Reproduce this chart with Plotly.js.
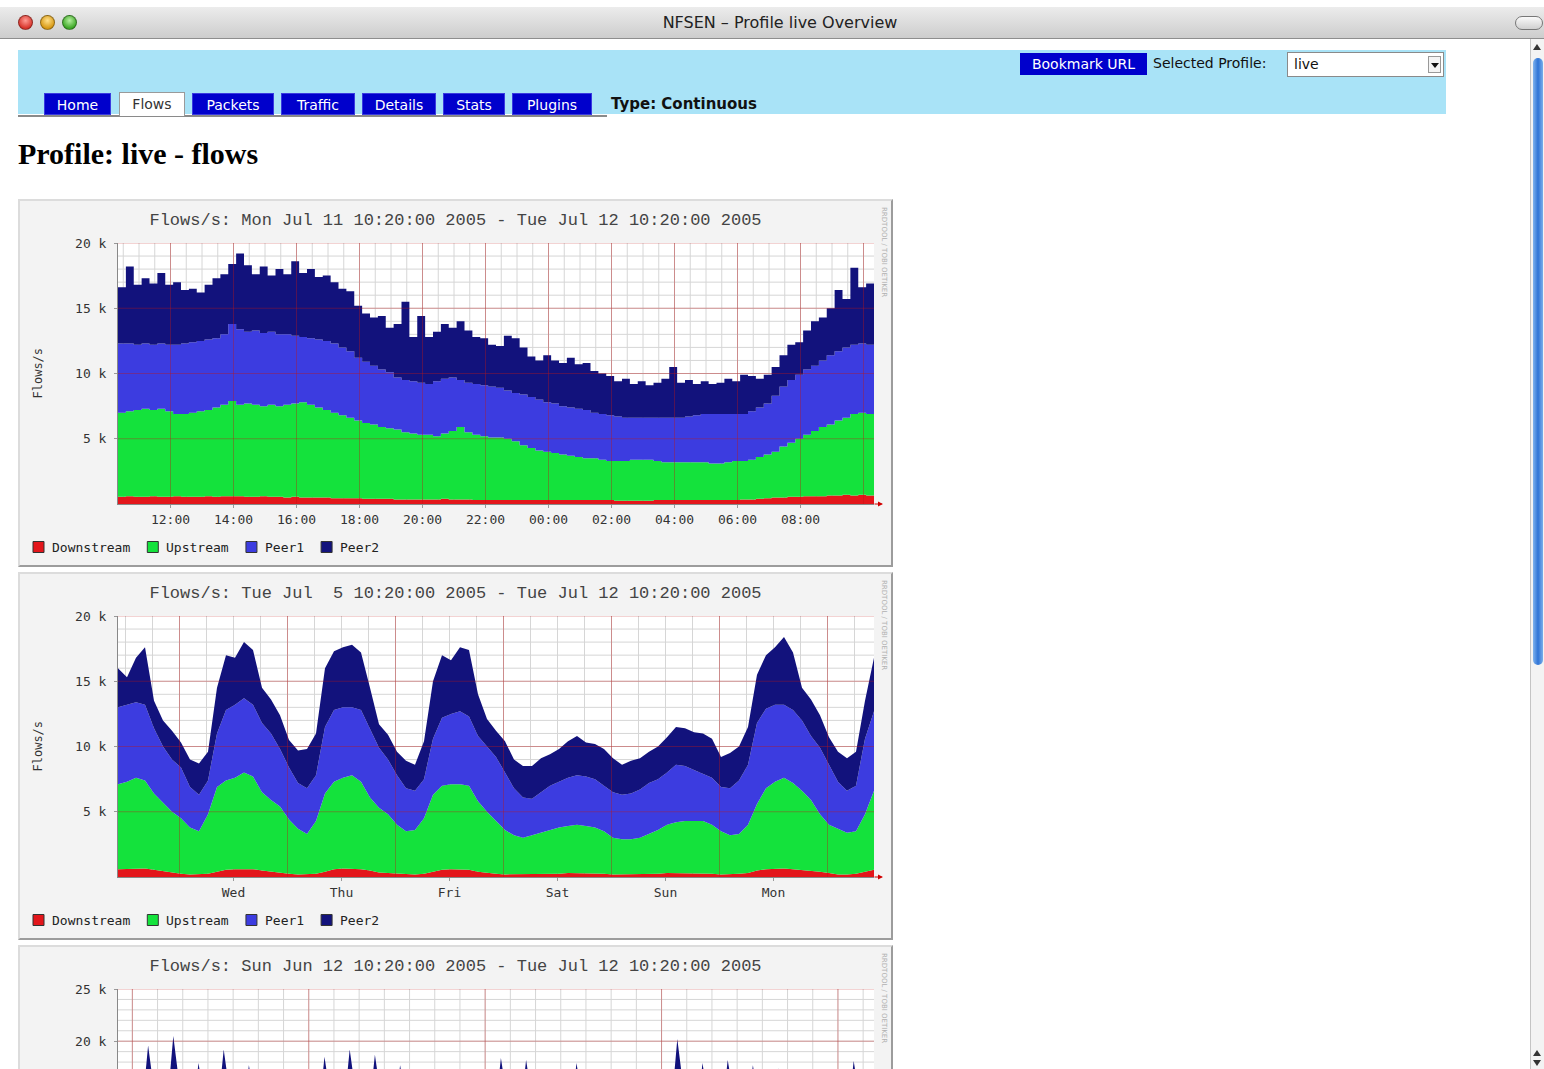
<!DOCTYPE html>
<html>
<head>
<meta charset="utf-8">
<script src="https://cdn.plot.ly/plotly-3.0.1.min.js"></script>
<style>
html,body{margin:0;padding:0;background:#fff;}
body{width:1544px;height:1069px;overflow:hidden;position:relative;font-family:"DejaVu Sans",sans-serif;}
.abs{position:absolute;}
#titlebar{left:0;top:7px;width:1544px;height:31px;background:linear-gradient(#ececec,#cdcdcd);border-bottom:1px solid #8e8e8e;}
.light{position:absolute;top:8px;width:15px;height:15px;border-radius:50%;box-sizing:border-box;border:1px solid rgba(0,0,0,0.35);}
#wtitle{left:620px;top:13px;width:320px;text-align:center;font-size:16px;color:#222;}
#pill{left:1515px;top:16px;width:26px;height:12px;border:1px solid #777;border-radius:7px;background:linear-gradient(#fafafa,#d0d0d0);}
#nav{left:18px;top:50px;width:1428px;height:64px;background:#a9e3f7;}
.btn{position:absolute;background:#0000cc;color:#fff;font-size:14px;text-align:center;line-height:22px;}
.lbl{position:absolute;font-size:14px;color:#111;}
#sel{left:1287px;top:52px;width:157px;height:25px;box-sizing:border-box;background:#fff;border:1px solid #8a8a8a;font-size:14px;line-height:23px;padding-left:6px;color:#111;}
#selarrow{position:absolute;right:2px;top:3px;width:13px;height:17px;border:1px solid #999;box-sizing:border-box;background:#f4f4f4;}
#selarrow:after{content:"";position:absolute;left:2px;top:6px;border-left:4px solid transparent;border-right:4px solid transparent;border-top:5px solid #111;}
.tab{position:absolute;top:93px;height:22px;line-height:22px;background:#0000cc;color:#fff;font-size:14px;text-align:center;box-sizing:border-box;border:1px solid #3a3ae0;}
.tab.on{background:#fff;color:#333;border:1px solid #9a9a9a;border-bottom:none;height:24px;top:92px;}
#tabline{left:18px;top:115px;width:589px;height:2px;background:#8a8a8a;}
#ctype{left:611px;top:95px;font-size:15px;font-weight:bold;color:#111;}
#heading{left:18px;top:139px;font-family:"Liberation Serif","Times New Roman",serif;font-weight:bold;font-size:30px;line-height:30px;color:#000;}
.chart{position:absolute;left:18px;width:875px;height:368px;}
.frame{position:absolute;left:18px;width:875px;height:368px;box-sizing:border-box;border:2px solid;border-color:#dcdcdc #9c9c9c #9c9c9c #dcdcdc;pointer-events:none;}
#scroll{left:1530px;top:39px;width:14px;height:1030px;background:#f3f3f3;border-left:1px solid #c4c4c4;}
#thumb{left:1533px;top:58px;width:10px;height:607px;border-radius:6px;background:linear-gradient(to right,#7fb3ee,#2f74d6,#79aeea);}
.arr{position:absolute;width:0;height:0;border-left:4px solid transparent;border-right:4px solid transparent;}
</style>
</head>
<body>
<div id="titlebar" class="abs">
  <div class="light" style="left:18px;background:radial-gradient(circle at 50% 35%,#ff9b93,#d8352c 70%);"></div>
  <div class="light" style="left:40px;background:radial-gradient(circle at 50% 35%,#ffe08a,#d89a16 70%);"></div>
  <div class="light" style="left:62px;background:radial-gradient(circle at 50% 35%,#b6f0a0,#3fa928 70%);"></div>
</div>
<div id="wtitle" class="abs">NFSEN – Profile live Overview</div>
<div id="pill" class="abs"></div>
<div id="scroll" class="abs"></div>
<div id="thumb" class="abs"></div>
<div class="arr" style="left:1533px;top:44px;border-bottom:6px solid #333;"></div>
<div class="arr" style="left:1533px;top:1050px;border-bottom:6px solid #333;"></div>
<div class="arr" style="left:1533px;top:1060px;border-top:6px solid #333;"></div>

<div id="nav" class="abs"></div>
<div class="btn" style="left:1020px;top:53px;width:127px;height:22px;">Bookmark URL</div>
<div class="lbl" style="left:1153px;top:55px;">Selected Profile:</div>
<div id="sel" class="abs">live<div id="selarrow"></div></div>
<div id="tabline" class="abs"></div>
<div class="tab" style="left:44px;width:67px;">Home</div>
<div class="tab on" style="left:119px;width:66px;">Flows</div>
<div class="tab" style="left:192px;width:82px;">Packets</div>
<div class="tab" style="left:281px;width:74px;">Traffic</div>
<div class="tab" style="left:362px;width:74px;">Details</div>
<div class="tab" style="left:443px;width:62px;">Stats</div>
<div class="tab" style="left:512px;width:80px;">Plugins</div>
<div id="ctype" class="abs">Type: Continuous</div>
<div id="heading" class="abs">Profile: live - flows</div>

<div id="c1" class="chart" style="top:199px;"></div>
<div class="frame" style="top:199px;"></div>
<div id="c2" class="chart" style="top:572px;"></div>
<div class="frame" style="top:572px;"></div>
<div id="c3" class="chart" style="top:945px;"></div>
<div class="frame" style="top:945px;"></div>

<script>
// ---------------- data ----------------
const seriesNames = ['Downstream', 'Upstream', 'Peer1', 'Peer2'];
const seriesColors = ['#e3161b', '#14e23c', '#3c3ce0', '#12127c'];

// Chart 1: one day, 15-minute samples starting Mon Jul 11 10:20 2005
const dayTitle = 'Flows/s: Mon Jul 11 10:20:00 2005 - Tue Jul 12 10:20:00 2005';
const dayStart = '2005-07-11 10:20';
const dayEnd = '2005-07-12 10:20';
const dayStepMinutes = 15;
const dayDownstream = [550,600,550,550,600,550,550,600,550,550,550,600,550,600,600,600,550,550,600,550,550,500,550,500,500,500,500,450,450,450,
450,400,400,400,400,350,350,350,350,350,350,400,350,350,350,300,300,300,300,300,300,300,300,300,300,300,300,300,300,300,
300,300,300,250,250,250,250,250,300,300,300,300,300,300,300,300,300,300,300,350,350,400,450,500,500,550,550,600,600,600,650,650,700,650,700,650,700];
const dayUpstream = [6450,6500,6650,6750,6600,6750,6550,6300,6350,6450,6550,6600,6850,7000,7300,7000,7150,7050,6900,7050,6950,7100,7150,7300,7100,6900,6700,6550,6350,6150,
5950,5800,5700,5500,5400,5350,5150,5050,4950,4950,4850,5000,5250,5550,5150,5000,4900,4800,4800,4700,4500,4200,4000,3800,3700,3600,3500,3400,3300,3200,
3200,3100,3000,3050,3050,3150,3150,3150,3000,2900,2900,2900,2900,2900,2900,2800,2800,2900,3000,2950,3050,3200,3350,3500,3900,4150,4450,4700,5000,5300,5450,5750,5900,6250,6300,6250,6100];
const dayPeer1 = [5300,5200,5000,5000,5000,5000,5100,5300,5400,5400,5400,5400,5300,5400,5900,5800,5500,5700,5600,5600,5500,5400,5200,5000,5100,5200,5300,5300,5200,5100,
4800,4700,4500,4400,4300,4000,4000,4000,4000,3900,4200,4200,4100,3600,3800,3900,3900,3900,3800,3700,3700,3900,3900,3900,3800,3800,3700,3700,3700,3700,
3500,3500,3500,3400,3300,3200,3200,3200,3300,3400,3400,3400,3500,3600,3700,3800,3800,3700,3600,3600,3700,3800,3900,4300,4600,4800,4900,5000,5000,5100,5300,5300,5400,5300,5300,5300,5400];
const dayPeer2 = [4300,5900,4600,5000,4700,5400,4600,4800,4100,4100,3700,4200,4600,4600,4600,5800,5100,4300,5100,4300,5000,4600,5700,4900,5300,4800,5000,4700,4500,4600,
4000,3700,3700,4100,3400,4100,6000,3400,5100,3600,3800,4200,3800,4500,4000,3600,3600,3200,3200,4200,4200,3600,3100,3000,3600,3300,3300,3800,3400,3600,
3200,3100,3000,2700,3000,2600,2800,2500,2700,3000,3900,2700,2800,2400,2500,2300,2400,2700,2500,3000,2700,2200,2200,2200,2400,2700,2500,3000,3400,3300,3600,4700,3700,5900,4300,4700,4800];
const dayTickVals = ['2005-07-11 12:00','2005-07-11 14:00','2005-07-11 16:00','2005-07-11 18:00','2005-07-11 20:00','2005-07-11 22:00','2005-07-12 00:00','2005-07-12 02:00','2005-07-12 04:00','2005-07-12 06:00','2005-07-12 08:00'];
const dayTickText = ['12:00','14:00','16:00','18:00','20:00','22:00','00:00','02:00','04:00','06:00','08:00'];

// Chart 2: one week, 2-hour samples starting Tue Jul 5 10:20 2005
const weekTitle = 'Flows/s: Tue Jul \u00a05 10:20:00 2005 - Tue Jul 12 10:20:00 2005';
const weekStart = '2005-07-05 10:20';
const weekEnd = '2005-07-12 10:20';
const weekStepMinutes = 120;
const weekDownstream = [600,600,650,650,550,450,300,250,200,200, 250,400,550,600,600,600,500,400,300,250, 200,200,250,400,600,650,650,600,500,350,
300,250,200,200,250,400,550,600,600,550, 400,300,250,200,200,200,200,200,250,250, 300,300,300,300,250,200,200,200,200,200,
250,300,300,300,300,300,250,200,200,250, 300,500,600,650,650,600,550,500,400,300, 200,200,250,400,550];
const weekUpstream = [6500,6700,6950,6750,5850,5250,4700,4250,3600,3300, 4550,6500,6850,7000,7400,7100,6000,5500,5100,4150, 3500,3100,4050,6000,6700,6950,7150,6700,5600,4950,
4500,3750,3300,3400,4250,5900,6450,6500,6500,6450, 5400,4700,4050,3400,3000,2800,3000,3200,3350,3550, 3600,3700,3600,3500,3250,2800,2700,2700,2800,3100,
3350,3700,3900,4000,4000,4000,3750,3300,3000,3050, 3700,5100,6200,6650,6950,6600,6050,5400,4400,3700, 3500,3200,3250,4400,6050];
const weekPeer1 = [5900,5900,5800,5800,5000,4300,4000,3900,3100,2800, 2600,4100,5400,5600,5700,5500,5300,5100,4400,4000, 3500,3500,3500,5100,5500,5400,5200,5500,5300,4600,
4200,3800,3300,3000,3000,4300,5200,5400,5600,5300, 5000,5000,4900,4400,3600,3100,2800,3100,3400,3500, 3700,3800,3800,3700,3500,3500,3400,3500,3700,3900,
3900,4000,4400,4200,3900,3600,3600,3400,3600,4100, 4600,6200,6100,5900,5600,5600,5400,4900,5100,4600, 3600,3200,3500,5800,6100];
const weekPeer2 = [3000,2100,3400,4400,2100,2000,2200,1900,2100,2400, 2200,3500,4200,3600,4300,4200,2700,2600,2600,2100, 2500,3000,3200,4500,4500,4600,4800,4400,3100,1800,
1900,1800,2100,2000,2900,4400,4800,4100,4900,5100, 3200,2100,2000,2400,2200,2400,2500,2600,2400,2500, 2800,3000,2600,2700,2800,2600,2300,2500,2400,2400,
2500,2700,2900,2900,2900,3100,3000,2300,2700,2600, 2900,3700,4100,4400,5200,4400,2500,2800,2500,2100, 2300,2500,2600,2900,4100];
const weekTickVals = ['2005-07-06 12:00','2005-07-07 12:00','2005-07-08 12:00','2005-07-09 12:00','2005-07-10 12:00','2005-07-11 12:00'];
const weekTickText = ['Wed','Thu','Fri','Sat','Sun','Mon'];

// Chart 3: one month, start, then daily peak (15:00) and night trough (05:00 next day), then end
// (only its top part is visible in the window)
const monthTitle = 'Flows/s: Sun Jun 12 10:20:00 2005 - Tue Jul 12 10:20:00 2005';
const monthStart = '2005-06-12 10:20';
const monthEnd = '2005-07-12 10:20';
const monthDownstream = [300, 300,200, 600,200, 600,200, 600,200, 600,200, 600,200, 300,200, 300,200, 600,200, 600,200, 600,200, 600,200, 600,200, 300,200, 300,200,
600,200, 600,200, 600,200, 600,200, 600,200, 300,200, 300,200, 600,200, 600,200, 600,200, 600,200, 600,200, 300,200, 300,200, 600,200, 500];
const monthUpstream = [3800, 4000,3200, 7000,3200, 7000,3200, 7000,3200, 7000,3200, 7000,3200, 4000,3200, 4000,3200, 7000,3200, 7000,3200, 7000,3200, 7000,3200, 7000,3200, 4000,3200, 4000,3200,
7000,3200, 7000,3200, 7000,3200, 7000,3200, 7000,3200, 4000,3200, 4000,3200, 7000,3200, 7000,3200, 7000,3200, 7000,3200, 7000,3200, 4000,3200, 4000,3200, 7000,3200, 5000];
const monthPeer1 = [3500, 4000,3200, 5500,3200, 5500,3200, 5500,3200, 5500,3200, 5500,3200, 4000,3200, 4000,3200, 5500,3200, 5500,3200, 5500,3200, 5500,3200, 5500,3200, 4000,3200, 4000,3200,
5500,3200, 5500,3200, 5500,3200, 5500,3200, 5500,3200, 4000,3200, 4000,3200, 5500,3200, 5500,3200, 5500,3200, 5500,3200, 5500,3200, 4000,3200, 4000,3200, 5500,3200, 5000];
const monthPeer2 = [1900, 2700,2200, 6500,2400, 7400,2600, 4800,2400, 6100,2500, 4600,2200, 2700,1900, 3200,2100, 5400,2400, 6100,2500, 5600,2400, 4600,2400, 3400,2200, 2700,2000, 3500,2200,
5300,2500, 5100,2400, 3900,2400, 4800,2500, 3700,2200, 2900,2000, 3200,2100, 7100,2400, 4800,2100, 5100,3200, 4600,1900, 4300,2400, 2700,1900, 3200,2400, 5000,2500, 2500];

const yGridVals20 = [5000, 10000, 15000, 20000];
const yTickText20 = ['5 k', '10 k', '15 k', '20 k'];
const yGridVals25 = [5000, 10000, 15000, 20000, 25000];
const yVisibleTickVals25 = [20000, 25000];
const yVisibleTickText25 = ['20 k', '25 k'];

// ---------------- helpers ----------------
const MIN = 60000, HOUR = 3600000, DAY = 86400000;
function ms(s) { const p = s.split(/[- :]/).map(Number); return Date.UTC(p[0], p[1]-1, p[2], p[3]||0, p[4]||0); }
function regularTimes(start, stepMin, n) { const t0 = ms(start); const out = []; for (let i = 0; i < n; i++) out.push(t0 + i*stepMin*MIN); return out; }
function monthTimes() {
  const out = [ms(monthStart)];
  for (let d = 0; d < 30; d++) { out.push(Date.UTC(2005, 5, 12+d, 15, 0)); out.push(Date.UTC(2005, 5, 13+d, 5, 0)); }
  out.push(ms(monthEnd));
  return out;
}
function gridTimes(start, end, stepMs, offsetMs) {
  const a = ms(start), b = ms(end), out = [];
  let t = Math.ceil((a - offsetMs) / stepMs) * stepMs + offsetMs;
  for (; t <= b; t += stepMs) if (t > a) out.push(t);
  return out;
}

const MONO = '"DejaVu Sans Mono", monospace';
const TITLEMONO = '"Liberation Mono", "DejaVu Sans Mono", monospace';
const PW = 756, PH = 261, CH = 368;

function makeChart(id, o) {
  const vals = [o.down, o.up, o.peer1, o.peer2];
  const traces = vals.map((v, k) => ({
    type: 'scatter', mode: 'lines', x: o.x, y: v, name: seriesNames[k], stackgroup: 'flows',
    line: {width: 0, color: seriesColors[k], shape: o.shape}, fillcolor: seriesColors[k],
    hoverinfo: 'skip', showlegend: false
  }));
  const shapes = [];
  const minorC = '#d6d6d6', majorC = 'rgba(190,20,20,0.38)';
  o.minorX.forEach(t => shapes.push({type:'line', xref:'x', yref:'paper', x0:t, x1:t, y0:0, y1:1, layer:'below', line:{color:minorC, width:1}}));
  for (let v = 1000; v < o.ymax; v += 1000) shapes.push({type:'line', xref:'paper', yref:'y', x0:0, x1:1, y0:v, y1:v, layer:'below', line:{color:minorC, width:1}});
  o.majorX.forEach(t => shapes.push({type:'line', xref:'x', yref:'paper', x0:t, x1:t, y0:0, y1:1, layer:'above', line:{color:majorC, width:1}}));
  o.yGrid.forEach(v => shapes.push({type:'line', xref:'paper', yref:'y', x0:0, x1:1, y0:v, y1:v, layer:'above', line:{color:majorC, width:1}}));

  const annotations = [];
  if (o.showLegend) {
    let lx = 33 - 118;
    seriesNames.forEach((n, k) => {
      shapes.push({type:'rect', xref:'paper', yref:'paper', x0:lx/PW, x1:(lx+11)/PW, y0:-(43+5.5)/PH, y1:-(43-5.5)/PH,
        fillcolor: seriesColors[k], line:{color:'#333', width:1}, layer:'above'});
      annotations.push({xref:'paper', yref:'paper', x:(lx+17)/PW, y:-43/PH, xanchor:'left', yanchor:'middle', text:n,
        showarrow:false, font:{family:MONO, size:13, color:'#222'}});
      lx += 17 + n.length*7.83 + 19;
    });
  }
  if (o.showYTitle) {
    annotations.push({xref:'paper', yref:'paper', x:(37-118)/PW, y:0.5, text:'Flows/s', textangle:-90, showarrow:false,
      xanchor:'center', yanchor:'middle', font:{family:MONO, size:12, color:'#333'}});
  }
  annotations.push({xref:'paper', yref:'paper', x:(884-118)/PW, y:(261+38)/PH, text:'RRDTOOL / TOBI OETIKER', textangle:90, showarrow:false,
    xanchor:'center', yanchor:'top', font:{family:'DejaVu Sans', size:7, color:'#b0b0b0'}});
  annotations.push({xref:'paper', yref:'paper', x:(883-118)/PW, y:0, text:'', showarrow:true, ax:-10, ay:0,
    arrowhead:2, arrowsize:1, arrowwidth:1, arrowcolor:'#d00000'});

  const layout = {
    width: 875, height: CH,
    margin: {l:100, r:19, t:44, b:63, pad:0},
    paper_bgcolor: '#f3f3f3', plot_bgcolor: '#ffffff',
    title: {text: o.title, x:0.5, xref:'container', xanchor:'center', y:1-20/CH, yref:'container', yanchor:'middle',
      font:{family:TITLEMONO, size:17, color:'#444'}},
    xaxis: {type:'date', range:[o.start, o.end], tickmode:'array', tickvals:o.tickVals, ticktext:o.tickText,
      showticklabels: o.tickVals.length > 0,
      showgrid:false, zeroline:false, showline:true, linecolor:'#888', linewidth:1,
      ticks:'outside', ticklen:3, tickcolor:'#999', tickfont:{family:MONO, size:13, color:'#333'}, fixedrange:true},
    yaxis: {range:[0, o.ymax], tickmode:'array', tickvals:o.yTickVals, ticktext:o.yTickText,
      showgrid:false, zeroline:false, showline:true, linecolor:'#888', linewidth:1,
      ticks:'outside', ticklen:3, tickcolor:'#999', ticklabelstandoff:5, tickfont:{family:MONO, size:13, color:'#333'}, fixedrange:true},
    shapes: shapes, annotations: annotations, showlegend:false
  };
  Plotly.newPlot(id, traces, layout, {staticPlot:true, displayModeBar:false});
}

makeChart('c1', {
  title: dayTitle, start: dayStart, end: dayEnd, shape: 'hv',
  x: regularTimes(dayStart, dayStepMinutes, dayPeer2.length),
  down: dayDownstream, up: dayUpstream, peer1: dayPeer1, peer2: dayPeer2,
  tickVals: dayTickVals, tickText: dayTickText,
  minorX: gridTimes(dayStart, dayEnd, 30*MIN, 0),
  majorX: gridTimes(dayStart, dayEnd, 2*HOUR, 0),
  ymax: 20000, yGrid: yGridVals20, yTickVals: yGridVals20, yTickText: yTickText20,
  showLegend: true, showYTitle: true
});
makeChart('c2', {
  title: weekTitle, start: weekStart, end: weekEnd, shape: 'linear',
  x: regularTimes(weekStart, weekStepMinutes, weekPeer2.length),
  down: weekDownstream, up: weekUpstream, peer1: weekPeer1, peer2: weekPeer2,
  tickVals: weekTickVals, tickText: weekTickText,
  minorX: gridTimes(weekStart, weekEnd, 6*HOUR, 0),
  majorX: gridTimes(weekStart, weekEnd, DAY, 0),
  ymax: 20000, yGrid: yGridVals20, yTickVals: yGridVals20, yTickText: yTickText20,
  showLegend: true, showYTitle: true
});
// third graph: the browser window cuts it off below the 20 k line, so only the texts inside the window are drawn
makeChart('c3', {
  title: monthTitle, start: monthStart, end: monthEnd, shape: 'linear',
  x: monthTimes(),
  down: monthDownstream, up: monthUpstream, peer1: monthPeer1, peer2: monthPeer2,
  tickVals: [], tickText: [],
  minorX: gridTimes(monthStart, monthEnd, DAY, 0),
  majorX: gridTimes(monthStart, monthEnd, 7*DAY, 4*DAY),
  ymax: 25000, yGrid: yGridVals25, yTickVals: yVisibleTickVals25, yTickText: yVisibleTickText25,
  showLegend: false, showYTitle: false
});
</script>
</body>
</html>
